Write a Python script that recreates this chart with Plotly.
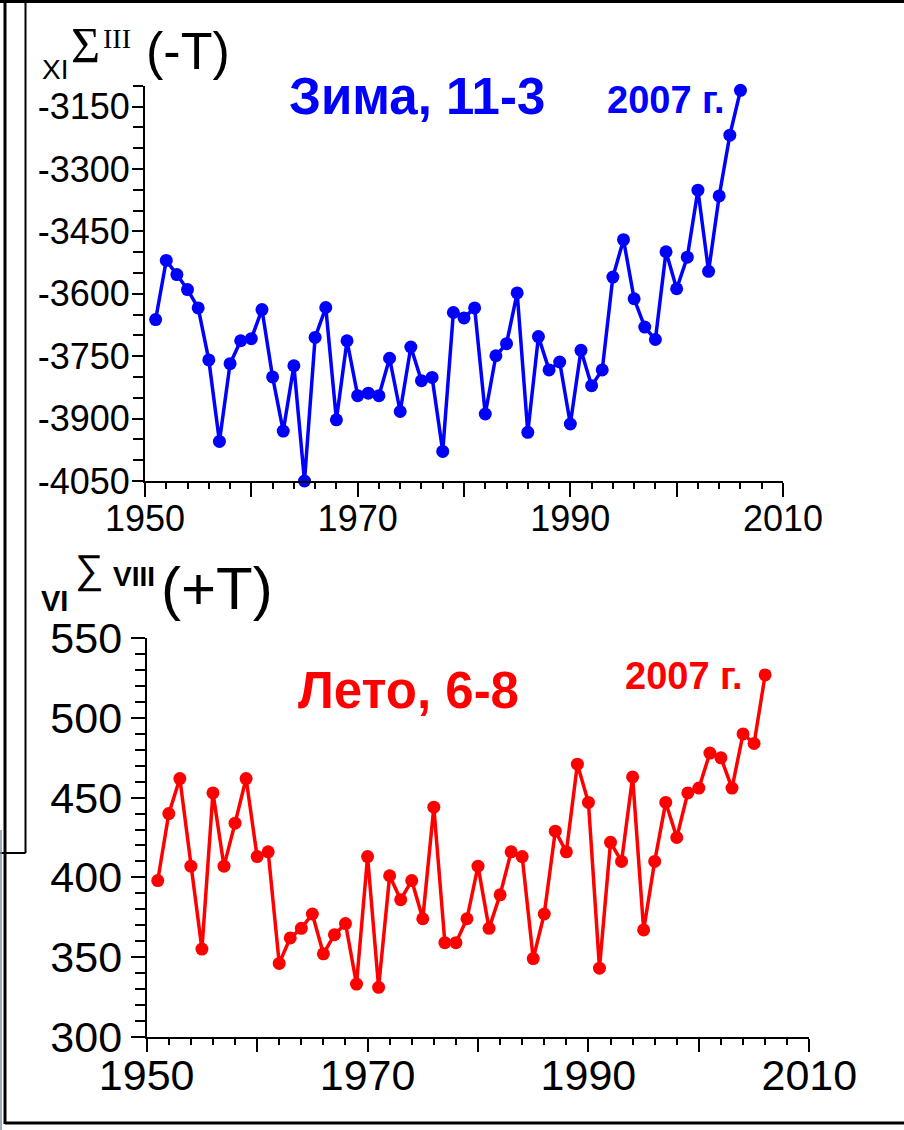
import plotly.graph_objects as go

W, H = 904, 1130

years = list(range(1951, 2007))
winter = [-3662, -3520, -3554, -3590, -3634, -3759, -3955, -3768, -3713, -3708,
          -3638, -3800, -3930, -3773, -4050, -3705, -3633, -3903, -3713, -3845,
          -3839, -3845, -3755, -3883, -3728, -3809, -3801, -3979, -3645, -3658,
          -3634, -3889, -3749, -3720, -3598, -3933, -3703, -3783, -3764, -3913,
          -3736, -3821, -3783, -3560, -3470, -3612, -3680, -3710, -3499, -3588,
          -3512, -3351, -3546, -3365, -3219, -3111]
summer = [398, 440, 462, 407, 355, 453, 407, 434, 462, 413,
          416, 346, 362, 368, 377, 352, 364, 371, 333, 413,
          331, 401, 386, 398, 374, 444, 359, 359, 374, 407,
          368, 389, 416, 413, 349, 377, 429, 416, 471, 447,
          343, 422, 410, 463, 367, 410, 447, 425, 453, 456,
          478, 475, 456, 490, 484, 527]

x_ticks = [1950, 1960, 1970, 1980, 1990, 2000, 2010]
x_text = ["1950", "", "1970", "", "1990", "", "2010"]
w_ticks = [-4050, -3900, -3750, -3600, -3450, -3300, -3150]
w_text = ["-4050", "-3900", "-3750", "-3600", "-3450", "-3300", "-3150"]
s_ticks = [300, 350, 400, 450, 500, 550]
s_text = ["300", "350", "400", "450", "500", "550"]


def px(x):
    return x / W


def py(y):
    return 1 - y / H


FONT = "Liberation Sans, Arial, sans-serif"
SERIF = "Liberation Serif, Times New Roman, serif"

fig = go.Figure()
fig.add_trace(go.Scatter(x=years, y=winter, mode="lines+markers",
                         line=dict(color="#0000ff", width=3.5),
                         marker=dict(color="#0000ff", size=13),
                         xaxis="x", yaxis="y", showlegend=False,
                         cliponaxis=False))
fig.add_trace(go.Scatter(x=years, y=summer, mode="lines+markers",
                         line=dict(color="#ff0000", width=3.5),
                         marker=dict(color="#ff0000", size=13),
                         xaxis="x2", yaxis="y2", showlegend=False,
                         cliponaxis=False))

axis_common = dict(showgrid=False, zeroline=False, showline=True,
                   linecolor="black", linewidth=2, ticks="outside",
                   tickcolor="black", tickwidth=2, tickmode="array",
                   automargin=False)

fig.update_layout(
    width=W, height=H,
    margin=dict(l=0, r=0, t=0, b=0, pad=0, autoexpand=False),
    paper_bgcolor="white", plot_bgcolor="white",
    showlegend=False,
    xaxis=dict(axis_common, domain=[px(145), px(783)], range=[1950, 2010],
               anchor="y", tickvals=x_ticks, ticktext=x_text, ticklen=14,
               ticklabelstandoff=-9,
               tickfont=dict(family=FONT, size=36, color="black"),
               minor=dict(dtick=2, tick0=1950, ticklen=6, ticks="outside",
                          tickcolor="black", tickwidth=2, showgrid=False)),
    yaxis=dict(axis_common, domain=[py(481), py(85.7)], range=[-4050, -3100],
               anchor="x", tickvals=w_ticks, ticktext=w_text, ticklen=11,
               ticklabelstandoff=-5,
               tickfont=dict(family=FONT, size=36, color="black"),
               minor=dict(dtick=50, tick0=-4050, ticklen=10, ticks="outside",
                          tickcolor="black", tickwidth=2, showgrid=False)),
    xaxis2=dict(axis_common, domain=[px(146.7), px(809.3)], range=[1950, 2010],
                anchor="y2", tickvals=x_ticks, ticktext=x_text, ticklen=13,
                ticklabelstandoff=-13,
                tickfont=dict(family=FONT, size=43, color="black"),
                minor=dict(dtick=2, tick0=1950, ticklen=6, ticks="outside",
                           tickcolor="black", tickwidth=2, showgrid=False)),
    yaxis2=dict(axis_common, domain=[py(1036.7), py(638.3)], range=[300, 550],
                anchor="x2", tickvals=s_ticks, ticktext=s_text, ticklen=14,
                tickfont=dict(family=FONT, size=43, color="black"),
                minor=dict(dtick=10, tick0=300, ticklen=10, ticks="outside",
                           tickcolor="black", tickwidth=2, showgrid=False)),
)

# frame lines
frame = [
    (0, 1.5, W, 1.5, 3, "black"),
    (5, 0, 5, 1124, 3, "black"),
    (25.5, 0, 25.5, 853, 2, "black"),
    (0, 853, 25.5, 853, 2, "black"),
    (1, 830, 1, H, 1.5, "#7f8fa0"),
    (5, 1123, W, 1123, 3, "black"),
]
for x0, y0, x1, y1, w, c in frame:
    fig.add_shape(type="line", xref="paper", yref="paper",
                  x0=px(x0), y0=py(y0), x1=px(x1), y1=py(y1),
                  line=dict(color=c, width=w))


def ann(text, x, y, size, color="black", family=FONT, bold=False, xanchor="left"):
    if bold:
        text = "<b>" + text + "</b>"
    fig.add_annotation(text=text, xref="paper", yref="paper", x=px(x), y=py(y),
                       xanchor=xanchor, yanchor="middle", showarrow=False,
                       borderpad=0,
                       font=dict(family=family, size=size, color=color))


# top axis title
ann("XI", 41, 70, 28)
ann("Σ", 70, 45, 50, family=SERIF)
ann("III", 102, 39, 28, family=SERIF)
ann("(-T)", 145, 51, 52)
# bottom axis title
ann("VI", 40, 601, 29, bold=True)
ann("∑", 74, 569, 40)
ann("VIII", 112, 576, 28, bold=True)
ann("(+T)", 160, 588, 60)

# chart labels
ann("Зима, 11-3", 417, 96, 51, color="#0000ff", bold=True, xanchor="center")
ann("2007 г.", 666, 100, 38, color="#0000ff", bold=True, xanchor="center")
ann("Лето, 6-8", 408, 690, 51, color="#ff0000", bold=True, xanchor="center")
ann("2007 г.", 684, 676, 38, color="#ff0000", bold=True, xanchor="center")

fig.write_html("out.html")
